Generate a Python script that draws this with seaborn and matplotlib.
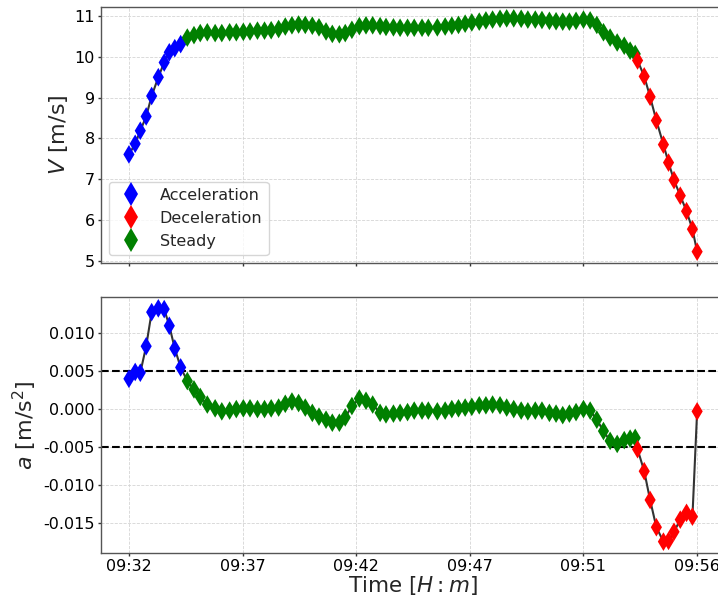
import numpy as np
import pandas as pd
import matplotlib
matplotlib.use("Agg")
import matplotlib.pyplot as plt
import matplotlib.dates as mdates
from matplotlib.lines import Line2D
import seaborn as sns

# Ride start; every sample is stored as seconds elapsed since this moment
start_time = "2023-01-01 09:32:35"

# Acceleration phase
acc_elapsed_s = [0, 16, 29, 44, 58, 75, 90, 103, 117, 132]
acc_speed = [7.61, 7.87, 8.19, 8.54, 9.04, 9.50, 9.86, 10.11, 10.21, 10.31]
acc_accel = [0.0040, 0.0049, 0.0048, 0.0083, 0.0128, 0.0133, 0.0132, 0.0110, 0.0080, 0.0055]

# Steady phase
steady_elapsed_s = [149, 166, 182, 200, 220, 237, 257, 274, 292, 309,
                    328, 346, 363, 382, 399, 416, 433, 450, 468, 485,
                    503, 519, 537, 552, 569, 588, 605, 622, 641, 656,
                    675, 692, 711, 728, 748, 764, 787, 807, 824, 841,
                    858, 875, 894, 911, 928, 947, 964, 982, 1001, 1018,
                    1037, 1054, 1073, 1090, 1107, 1124, 1141, 1160, 1177, 1194,
                    1211, 1228, 1246, 1264, 1279, 1292]
steady_speed = [10.47, 10.53, 10.58, 10.60, 10.58, 10.58, 10.60, 10.60, 10.61, 10.62,
                10.64, 10.64, 10.65, 10.68, 10.74, 10.77, 10.79, 10.78, 10.76, 10.72,
                10.62, 10.56, 10.55, 10.58, 10.66, 10.75, 10.77, 10.77, 10.75, 10.73,
                10.72, 10.71, 10.71, 10.71, 10.71, 10.71, 10.72, 10.74, 10.76, 10.78,
                10.81, 10.84, 10.86, 10.89, 10.91, 10.93, 10.94, 10.94, 10.93, 10.91,
                10.91, 10.90, 10.88, 10.87, 10.86, 10.86, 10.88, 10.91, 10.89, 10.78,
                10.60, 10.47, 10.35, 10.27, 10.15, 10.07]
steady_accel = [0.0037, 0.0026, 0.0016, 0.0006, 0.0001, -0.0003, -0.0002, 0.0000, 0.0001, 0.0001,
                0.0000, 0.0000, 0.0001, 0.0002, 0.0007, 0.0010, 0.0008, 0.0002, -0.0005, -0.0010,
                -0.0014, -0.0018, -0.0018, -0.0011, 0.0004, 0.0014, 0.0011, 0.0006, -0.0005, -0.0007,
                -0.0006, -0.0005, -0.0004, -0.0002, -0.0002, -0.0002, -0.0003, -0.0002, 0.0000, 0.0001,
                0.0002, 0.0003, 0.0005, 0.0005, 0.0006, 0.0005, 0.0002, 0.0000, -0.0002, -0.0003,
                -0.0002, -0.0002, -0.0005, -0.0006, -0.0008, -0.0006, -0.0004, 0.0000, -0.0002, -0.0014,
                -0.0029, -0.0042, -0.0046, -0.0041, -0.0039, -0.0038]

# Deceleration phase
dec_elapsed_s = [1298, 1315, 1330, 1346, 1364, 1377, 1391, 1407, 1423, 1438, 1450]
dec_speed = [9.91, 9.52, 9.02, 8.44, 7.85, 7.41, 6.98, 6.60, 6.22, 5.78, 5.23]
dec_accel = [-0.0053, -0.0082, -0.0120, -0.0156, -0.0175, -0.0174, -0.0162, -0.0146, -0.0137, -0.0142, -0.0003]

phase_names = ["Acceleration", "Deceleration", "Steady"]
phase_colors = ["blue", "red", "green"]
accel_threshold = 0.005

t0 = pd.Timestamp(start_time)
parts = []
for name, secs, v, a in [("Acceleration", acc_elapsed_s, acc_speed, acc_accel),
                         ("Steady", steady_elapsed_s, steady_speed, steady_accel),
                         ("Deceleration", dec_elapsed_s, dec_speed, dec_accel)]:
    parts.append(pd.DataFrame({"time": t0 + pd.to_timedelta(secs, unit="s"),
                               "V": v, "a": a, "phase": name}))
df = pd.concat(parts, ignore_index=True)

sns.set_style("ticks")
plt.rcParams["font.family"] = ["DejaVu Sans"]
plt.rcParams["axes.unicode_minus"] = False

fig = plt.figure(figsize=(7.18, 5.99), dpi=100)
ax1 = fig.add_axes([0.140, 0.5604, 0.8705, 0.4284])
ax2 = fig.add_axes([0.140, 0.0763, 0.8705, 0.4284], sharex=ax1)

palette = dict(zip(phase_names, phase_colors))
for ax, col in [(ax1, "V"), (ax2, "a")]:
    sns.lineplot(data=df, x="time", y=col, color="#333333", linewidth=1.5,
                 estimator=None, ax=ax, zorder=1)
    sns.scatterplot(data=df, x="time", y=col, hue="phase", hue_order=phase_names,
                    palette=palette, marker="d", s=90, linewidth=0,
                    ax=ax, zorder=3, legend=False)
    ax.grid(True, linestyle="--", linewidth=0.6, color="#d5d5d5")
    ax.set_axisbelow(True)
    for sp in ax.spines.values():
        sp.set_color("#555555")
        sp.set_linewidth(1.0)
    ax.tick_params(axis="both", labelsize=11.5, colors="#333333", labelcolor="black",
                   length=2.5, width=1.0, pad=1.5)

for y in (accel_threshold, -accel_threshold):
    ax2.axhline(y, color="black", linestyle="--", linewidth=1.5, zorder=2)

tick_pos = np.linspace(mdates.date2num(df["time"].iloc[0]),
                       mdates.date2num(df["time"].iloc[-1]), 6)
ax2.set_xticks(tick_pos)
ax2.set_xticklabels([mdates.num2date(p).strftime("%H:%M") for p in tick_pos])
plt.setp(ax1.get_xticklabels(), visible=False)

ax1.set_xlabel("")
ax1.set_ylabel("$V$ [m/s]", fontsize=16, labelpad=3)
ax2.set_ylabel("$a$ [m/s$^2$]", fontsize=16, labelpad=3)
ax2.set_xlabel("Time [$H:m$]", fontsize=15.5, labelpad=0)

handles = [Line2D([], [], marker="d", color=c, linestyle="none",
                  markersize=12, markeredgewidth=0) for c in phase_colors]
ax1.legend(handles, phase_names, loc="lower left", fontsize=11.5,
           labelspacing=0.5)

fig.savefig("out.png", dpi=100)
